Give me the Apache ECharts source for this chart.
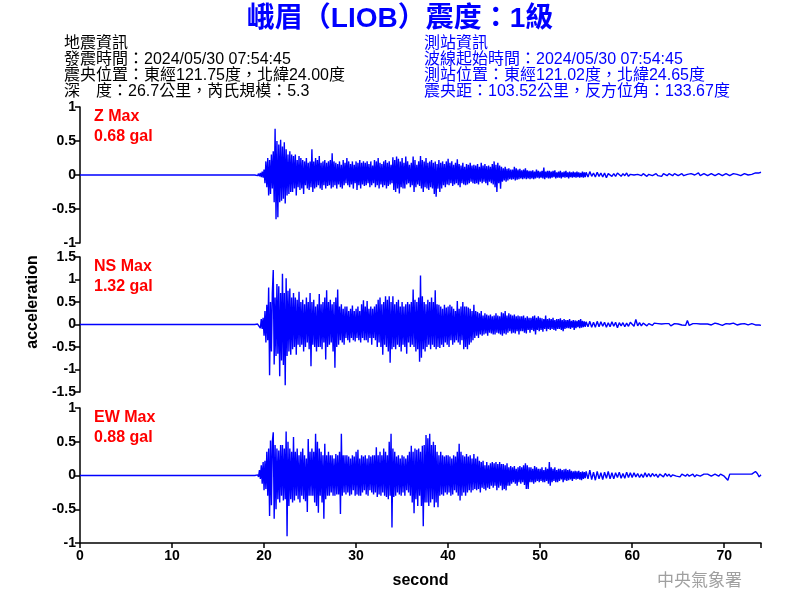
<!DOCTYPE html>
<html>
<head>
<meta charset="utf-8">
<script src="https://cdn.jsdelivr.net/npm/echarts@6/dist/echarts.min.js"></script>
<style>html,body{margin:0;padding:0;background:#fff}#c{width:800px;height:600px}</style>
</head>
<body>
<div id="c"></div>
<script>
// ---------------- data ----------------
const xTicks = [0, 10, 20, 30, 40, 50, 60, 70];
const xMax = 74;
const componentNames = ['Z Max', 'NS Max', 'EW Max'];
const peakLabels = ['0.68 gal', '1.32 gal', '0.88 gal'];
const burstStart = 19.0, burstStep = 0.1;   // seconds
const tailStart = 55.0, tailStep = 0.2;     // seconds

const zBurst = [
0,0,0.01,-0.01,0.02,-0.02,0.03,-0.03,0.05,-0.04,
0.08,-0.12,0.2,-0.18,0.25,-0.3,0.22,-0.28,0.3,-0.2,
0.35,-0.4,0.68,-0.65,0.5,-0.62,0.45,-0.4,0.52,-0.38,
0.42,-0.35,0.48,-0.42,0.38,-0.3,0.3,-0.28,0.35,-0.25,
0.3,-0.25,0.28,-0.2,0.3,-0.3,0.22,-0.18,0.28,-0.22,
0.25,-0.2,0.22,-0.28,0.2,-0.15,0.25,-0.2,0.18,-0.22,
0.2,-0.18,0.38,-0.25,0.2,-0.2,0.25,-0.18,0.22,-0.15,
0.28,-0.2,0.18,-0.22,0.2,-0.15,0.22,-0.2,0.18,-0.16,
0.2,-0.15,0.22,-0.2,0.32,-0.18,0.2,-0.15,0.18,-0.2,
0.16,-0.14,0.2,-0.18,0.15,-0.2,0.22,-0.15,0.18,-0.12,
0.25,-0.15,0.2,-0.18,0.16,-0.14,0.2,-0.2,0.15,-0.12,
0.2,-0.22,0.18,-0.15,0.22,-0.2,0.18,-0.14,0.2,-0.16,
0.18,-0.15,0.2,-0.12,0.16,-0.18,0.2,-0.15,0.14,-0.12,
0.22,-0.18,0.2,-0.15,0.25,-0.2,0.18,-0.14,0.16,-0.18,
0.2,-0.15,0.22,-0.2,0.18,-0.16,0.2,-0.14,0.15,-0.12,
0.26,-0.22,0.22,-0.25,0.27,-0.2,0.24,-0.27,0.2,-0.18,
0.25,-0.2,0.18,-0.2,0.27,-0.14,0.2,-0.12,0.15,-0.18,
0.18,-0.15,0.27,-0.25,0.22,-0.18,0.15,-0.14,0.2,-0.16,
0.28,-0.2,0.22,-0.25,0.2,-0.18,0.25,-0.2,0.18,-0.22,
0.2,-0.18,0.22,-0.2,0.18,-0.28,0.2,-0.32,0.16,-0.2,
0.22,-0.25,0.18,-0.2,0.2,-0.15,0.16,-0.18,0.2,-0.14,
0.24,-0.15,0.18,-0.12,0.2,-0.16,0.15,-0.14,0.18,-0.12,
0.23,-0.15,0.16,-0.18,0.14,-0.12,0.18,-0.14,0.12,-0.15,
0.16,-0.14,0.15,-0.12,0.18,-0.1,0.14,-0.12,0.15,-0.13,
0.14,-0.12,0.16,-0.14,0.12,-0.1,0.18,-0.12,0.14,-0.1,
0.16,-0.12,0.13,-0.15,0.14,-0.1,0.12,-0.12,0.16,-0.14,
0.2,-0.18,0.15,-0.25,0.18,-0.12,0.14,-0.2,0.12,-0.1,
0.1,-0.08,0.12,-0.1,0.09,-0.08,0.1,-0.06,0.08,-0.07,
0.08,-0.06,0.12,-0.08,0.1,-0.07,0.08,-0.06,0.09,-0.05,
0.07,-0.06,0.08,-0.05,0.1,-0.06,0.07,-0.05,0.06,-0.06,
0.06,-0.05,0.07,-0.06,0.05,-0.05,0.08,-0.04,0.06,-0.05,
0.05,-0.04,0.06,-0.05,0.11,-0.06,0.05,-0.04,0.06,-0.05,
0.06,-0.05,0.05,-0.04,0.06,-0.03,0.07,-0.05,0.04,-0.04,
0.05,-0.04,0.06,-0.05,0.04,-0.03,0.05,-0.04,0.06,-0.03,
0.04,-0.05,0.05,-0.03,0.04,-0.04,0.05,-0.03,0.04,-0.04,
0.05,-0.03,0.04,-0.04,0.03,-0.03,0.05,-0.04,0.04,-0.03
];
const zTail = [
0.04,-0.03,0.05,-0.02,0.03,
-0.03,0.04,-0.02,0.03,-0.03,
0.03,-0.04,0.02,0.03,-0.02,
0.02,-0.02,0.03,0.01,-0.02,
0.02,-0.01,0.03,-0.02,0.01,
0.02,0,-0.02,0.01,0.02,
-0.01,0.02,0.01,-0.02,0.01,
0.02,-0.01,0,0.02,-0.01,
0.01,-0.02,0.02,0.01,-0.01,
0.02,0,-0.01,0.02,0.01,
-0.01,0.01,0.02,-0.01,0.01,
0.01,-0.01,0.02,0.01,0,
0.02,0.03,-0.01,0.01,0.02,
0,-0.01,0.01,0.02,0.01,
-0.01,0.01,0.02,0,-0.01,
0.01,0.02,0.01,-0.01,0.01,
0.02,0,0.01,0.02,-0.01,
0.01,0.02,0.01,0,0.02,
0.01,0.02,0.03,0.02,0.03,
0.04
];

const nsBurst = [
0,0,0,0.01,-0.02,0.05,-0.08,0.12,-0.1,0.15,
-0.25,0.3,-0.4,0.44,-0.35,0.82,-1.13,0.5,-0.6,0.7,
1.21,-0.89,0.6,-0.7,0.9,-0.65,0.85,-1.15,0.7,-0.8,
1.13,-0.9,0.7,-1.35,1.03,-0.7,0.75,-0.6,0.8,-0.67,
0.6,-0.55,0.7,-0.5,0.6,-0.67,0.55,-0.45,0.73,-0.5,
0.5,-0.45,0.55,-0.6,0.45,-0.5,0.6,-0.4,0.5,-0.55,
0.7,-0.93,0.5,-0.45,0.55,-0.5,0.4,-0.6,0.45,-0.5,
0.68,-0.5,0.45,-0.55,0.5,-0.4,0.6,-0.78,0.76,-0.5,
0.5,-0.45,0.55,-0.4,0.45,-0.6,0.5,-0.96,0.6,-0.5,
0.78,-0.45,0.4,-0.35,0.45,-0.4,0.35,-0.45,0.4,-0.3,
0.4,-0.35,0.3,-0.4,0.35,-0.3,0.42,-0.35,0.3,-0.38,
0.35,-0.3,0.4,-0.35,0.3,-0.4,0.45,-0.3,0.54,-0.35,
0.4,-0.35,0.52,-0.4,0.35,-0.3,0.4,-0.45,0.35,-0.3,
0.4,-0.35,0.45,-0.5,0.55,-0.4,0.6,-0.5,0.45,-0.67,
0.5,-0.45,0.63,-0.5,0.55,-0.6,0.63,-0.85,0.5,-0.55,
0.63,-0.5,0.45,-0.55,0.5,-0.45,0.55,-0.5,0.4,-0.6,
0.5,-0.45,0.4,-0.5,0.45,-0.65,0.5,-0.4,0.45,-0.5,
0.5,-0.45,0.78,-0.5,0.55,-0.6,0.5,-0.55,0.6,-0.83,
1.09,-0.74,0.63,-0.55,0.5,-0.6,0.45,-0.5,0.55,-0.45,
0.5,-0.55,0.6,-0.45,0.5,-0.5,0.76,-0.55,0.45,-0.5,
0.44,-0.52,0.4,-0.45,0.35,-0.5,0.44,-0.4,0.38,-0.45,
0.4,-0.5,0.44,-0.35,0.4,-0.45,0.35,-0.4,0.3,-0.35,
0.52,-0.4,0.35,-0.45,0.4,-0.35,0.5,-0.55,0.4,-0.5,
0.4,-0.55,0.38,-0.45,0.35,-0.4,0.3,-0.35,0.44,-0.3,
0.3,-0.25,0.28,-0.3,0.25,-0.22,0.3,-0.25,0.2,-0.22,
0.25,-0.2,0.22,-0.25,0.2,-0.18,0.22,-0.2,0.18,-0.22,
0.2,-0.22,0.25,-0.18,0.2,-0.2,0.18,-0.22,0.27,-0.25,
0.25,-0.2,0.3,-0.22,0.2,-0.18,0.25,-0.15,0.22,-0.2,
0.2,-0.18,0.22,-0.2,0.18,-0.15,0.2,-0.22,0.18,-0.15,
0.18,-0.15,0.2,-0.18,0.15,-0.2,0.18,-0.12,0.15,-0.18,
0.15,-0.12,0.18,-0.15,0.2,-0.22,0.15,-0.12,0.18,-0.15,
0.15,-0.12,0.14,-0.16,0.12,-0.1,0.2,-0.15,0.12,-0.1,
0.14,-0.12,0.12,-0.1,0.15,-0.12,0.1,-0.14,0.12,-0.1,
0.12,-0.1,0.14,-0.12,0.1,-0.15,0.12,-0.1,0.1,-0.08,
0.1,-0.08,0.12,-0.1,0.08,-0.07,0.1,-0.12,0.09,-0.08,
0.08,-0.06,0.1,-0.08,0.12,-0.07,0.08,-0.06,0.07,-0.05
];
const nsTail = [
0.06,-0.05,0.07,-0.06,0.05,
-0.06,0.07,-0.05,0.06,-0.04,
0.05,-0.06,0.04,-0.05,0.06,
-0.04,0.05,-0.07,0.04,-0.03,
0.04,-0.05,0.03,-0.04,0.05,
0.08,-0.04,0.11,-0.03,0.04,
-0.03,0.03,0.02,-0.03,0.02,
0.01,-0.02,0.03,-0.01,0.02,
-0.02,0.01,0.03,0.02,-0.01,
0.02,-0.03,0.01,0.02,-0.02,
0.01,0.02,-0.01,0.03,-0.02,
0.09,-0.02,0.01,0.02,-0.01,
0.02,-0.02,0.01,0.03,0.01,
-0.02,0.01,0.02,-0.01,0.02,
0.03,-0.01,0.01,0.02,-0.02,
0.01,0.02,-0.01,0.01,0.02,
0.03,0.01,-0.01,0.02,0.01,
0,0.02,0.01,-0.01,0.01,
0.02,0.01,-0.01,0,-0.01,
-0.02
];

const ewBurst = [
0,0,0,0.01,-0.02,0.08,-0.05,0.15,-0.12,0.2,
-0.22,0.22,-0.2,0.35,-0.3,0.4,-0.6,0.52,-0.44,0.5,
0.64,-0.64,0.45,-0.5,0.4,-0.35,0.37,-0.4,0.45,-0.3,
0.45,-0.37,0.4,-0.35,0.65,-0.9,0.5,-0.45,0.4,-0.35,
0.35,-0.4,0.57,-0.37,0.35,-0.3,0.4,-0.35,0.3,-0.4,
0.35,-0.3,0.4,-0.35,0.3,-0.38,0.25,-0.54,0.54,-0.3,
0.35,-0.3,0.4,-0.3,0.35,-0.4,0.62,-0.45,0.5,-0.55,
0.4,-0.3,0.35,-0.4,0.3,-0.64,0.47,-0.35,0.3,-0.3,
0.35,-0.3,0.3,-0.25,0.3,-0.3,0.25,-0.3,0.32,-0.28,
0.3,-0.28,0.35,-0.57,0.62,-0.3,0.3,-0.25,0.3,-0.28,
0.3,-0.25,0.28,-0.3,0.25,-0.28,0.3,-0.22,0.28,-0.3,
0.35,-0.28,0.38,-0.3,0.25,-0.3,0.3,-0.25,0.28,-0.22,
0.3,-0.28,0.25,-0.3,0.3,-0.22,0.28,-0.25,0.3,-0.28,
0.3,-0.25,0.42,-0.32,0.3,-0.28,0.35,-0.3,0.3,-0.25,
0.4,-0.3,0.35,-0.32,0.3,-0.35,0.5,-0.3,0.62,-0.77,
0.4,-0.32,0.35,-0.3,0.28,-0.25,0.3,-0.28,0.25,-0.3,
0.3,-0.25,0.28,-0.3,0.25,-0.22,0.3,-0.25,0.35,-0.3,
0.44,-0.4,0.35,-0.56,0.4,-0.35,0.38,-0.45,0.4,-0.3,
0.35,-0.45,0.44,-0.75,0.45,-0.4,0.6,-0.4,0.55,-0.45,
0.62,-0.4,0.45,-0.35,0.5,-0.47,0.45,-0.4,0.35,-0.47,
0.3,-0.3,0.35,-0.28,0.3,-0.3,0.28,-0.25,0.3,-0.28,
0.3,-0.25,0.28,-0.3,0.25,-0.28,0.3,-0.22,0.28,-0.25,
0.35,-0.3,0.47,-0.37,0.35,-0.3,0.3,-0.25,0.28,-0.3,
0.32,-0.25,0.28,-0.22,0.3,-0.25,0.25,-0.22,0.32,-0.2,
0.25,-0.22,0.28,-0.2,0.22,-0.25,0.2,-0.18,0.22,-0.2,
0.15,-0.22,0.2,-0.18,0.15,-0.2,0.18,-0.15,0.2,-0.18,
0.18,-0.15,0.2,-0.22,0.17,-0.18,0.2,-0.15,0.17,-0.22,
0.17,-0.2,0.15,-0.22,0.18,-0.15,0.12,-0.15,0.14,-0.12,
0.12,-0.1,0.14,-0.12,0.1,-0.15,0.12,-0.1,0.14,-0.12,
0.12,-0.1,0.15,-0.14,0.18,-0.2,0.15,-0.2,0.12,-0.1,
0.12,-0.1,0.1,-0.12,0.14,-0.1,0.12,-0.08,0.1,-0.1,
0.1,-0.08,0.12,-0.1,0.08,-0.1,0.12,-0.08,0.1,-0.12,
0.2,-0.15,0.12,-0.1,0.1,-0.08,0.12,-0.1,0.08,-0.1,
0.1,-0.08,0.1,-0.06,0.08,-0.1,0.09,-0.07,0.1,-0.08,
0.08,-0.07,0.09,-0.06,0.07,-0.08,0.06,-0.05,0.07,-0.06,
0.06,-0.05,0.07,-0.06,0.05,-0.07,0.06,-0.05,0.05,-0.04
];
const ewTail = [
0.06,-0.05,0.08,-0.06,0.05,
-0.07,0.06,-0.05,0.04,-0.06,
0.05,-0.04,0.06,-0.05,0.04,
-0.05,0.04,-0.03,0.05,-0.04,
0.03,-0.04,0.05,-0.03,0.04,
-0.03,0.04,-0.02,0.03,-0.03,
0.02,-0.03,0.04,-0.02,0.03,
-0.02,0.03,-0.01,0.02,-0.03,
0.02,0.01,-0.02,0.03,-0.01,
0.02,-0.02,0.01,0.02,-0.01,
0.01,-0.02,0.02,0.01,-0.01,
0.02,-0.01,0.01,0.02,-0.02,
0.01,0.02,-0.01,0.01,0.02,
0.03,0.02,0.01,-0.01,0.01,
0.02,0.01,-0.01,0.02,0.01,
-0.01,0.01,-0.07,0.02,0.01,
0.02,0.01,0.02,0.01,0.02,
0.01,0.02,0.01,0.02,0.01,
0.02,0.03,0.06,0.03,-0.02,
0.01
];

const yRanges = [[-1, 1], [-1.5, 1.5], [-1, 1]];

// ---------------- build ----------------
function pairs(arr, t0, dt) {
  return arr.map((v, i) => [Math.round((t0 + i * dt) * 100) / 100, v]);
}
function trace(burst, tail) {
  return [[0, 0]].concat(pairs(burst, burstStart, burstStep), pairs(tail, tailStart, tailStep));
}
const traces = [trace(zBurst, zTail), trace(nsBurst, nsTail), trace(ewBurst, ewTail)];

const LAT = '"Liberation Sans", Arial, sans-serif';
const CJK = '"Liberation Sans", "Noto Sans CJK TC", sans-serif';
const gridTops = [107, 257, 408];
const gridHeights = [136, 135, 135];

const grids = [], xAxes = [], yAxes = [], series = [];
for (let k = 0; k < 3; k++) {
  grids.push({ left: 80, right: 39, top: gridTops[k], height: gridHeights[k], containLabel: false });
  const isBottom = k === 2;
  xAxes.push({
    type: 'value', gridIndex: k, min: 0, max: xMax, interval: 10,
    show: isBottom,
    axisLine: { show: true, onZero: false, lineStyle: { color: '#000', width: 1.5 } },
    axisTick: { show: true, length: 5, lineStyle: { color: '#000', width: 1.5 } },
    axisLabel: {
      show: true, color: '#000', fontFamily: LAT, fontWeight: 'bold', fontSize: 14, margin: 6,
      formatter: v => (xTicks.indexOf(v) >= 0 ? String(v) : '')
    },
    splitLine: { show: false },
    name: isBottom ? 'second' : '', nameLocation: 'middle', nameGap: 30,
    nameTextStyle: { color: '#000', fontFamily: LAT, fontWeight: 'bold', fontSize: 16 }
  });
  yAxes.push({
    type: 'value', gridIndex: k, min: yRanges[k][0], max: yRanges[k][1], interval: 0.5,
    axisLine: { show: true, onZero: false, lineStyle: { color: '#000', width: 1.5 } },
    axisTick: { show: true, length: 5, lineStyle: { color: '#000', width: 1.5 } },
    axisLabel: { color: '#000', fontFamily: LAT, fontWeight: 'bold', fontSize: 14, margin: 4 },
    splitLine: { show: false }
  });
  series.push({
    type: 'line', xAxisIndex: k, yAxisIndex: k, data: traces[k],
    showSymbol: false, symbol: 'none', animation: false,
    lineStyle: { color: '#0000ff', width: 1.4 }, z: 1
  });
}

const infoLeft = ['地震資訊', '發震時間：2024/05/30 07:54:45', '震央位置：東經121.75度，北緯24.00度', '深　度：26.7公里，芮氏規模：5.3'];
const infoRight = ['測站資訊', '波線起始時間：2024/05/30 07:54:45', '測站位置：東經121.02度，北緯24.65度', '震央距：103.52公里，反方位角：133.67度'];

const graphics = [];
graphics.push({ type: 'text', left: 'center', top: 5, style: { text: '峨眉（LIOB）震度：1級', fill: '#0000ff', font: 'bold 28px ' + CJK } });
infoLeft.forEach((s, i) => graphics.push({ type: 'text', x: 64, y: 44 + 16 * i, style: { text: s, fill: '#000', font: '16px ' + CJK, textVerticalAlign: 'middle' } }));
infoRight.forEach((s, i) => graphics.push({ type: 'text', x: 424, y: 44 + 16 * i, style: { text: s, fill: '#0000ff', font: '16px ' + CJK, textVerticalAlign: 'middle' } }));
for (let k = 0; k < 3; k++) {
  graphics.push({ type: 'text', x: 94, y: gridTops[k] + 10, style: { text: componentNames[k], fill: '#ff0000', font: 'bold 16px ' + LAT, textVerticalAlign: 'middle' } });
  graphics.push({ type: 'text', x: 94, y: gridTops[k] + 30, style: { text: peakLabels[k], fill: '#ff0000', font: 'bold 16px ' + LAT, textVerticalAlign: 'middle' } });
}
graphics.push({ type: 'text', x: 33, y: 302, rotation: Math.PI / 2, style: { text: 'acceleration', fill: '#000', font: 'bold 16px ' + LAT, textAlign: 'center', textVerticalAlign: 'middle' } });
graphics.push({ type: 'text', x: 657, y: 580, style: { text: '中央氣象署', fill: '#a0a0a0', font: '17px "Noto Sans CJK TC", sans-serif', textVerticalAlign: 'middle' } });

const chart = echarts.init(document.getElementById('c'), null, { renderer: 'canvas' });
chart.setOption({
  animation: false,
  backgroundColor: '#fff',
  grid: grids, xAxis: xAxes, yAxis: yAxes, series: series,
  graphic: graphics
});
</script>
</body>
</html>
